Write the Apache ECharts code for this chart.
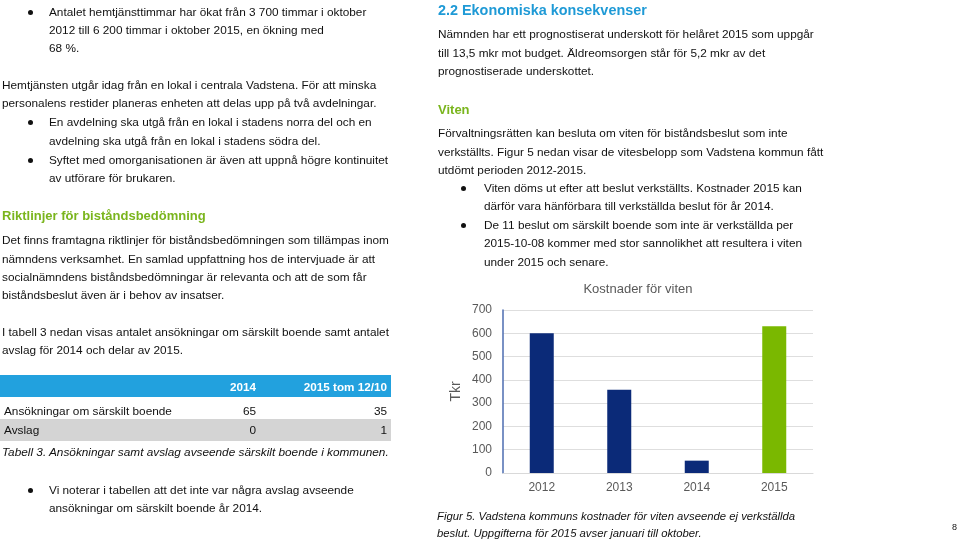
<!DOCTYPE html>
<html><head><meta charset="utf-8">
<script src="https://cdn.jsdelivr.net/npm/echarts@6/dist/echarts.min.js"></script>
<style>
html,body{margin:0;padding:0;background:#fff;}
#page{position:relative;width:960px;height:556px;overflow:hidden;font-family:"Liberation Sans",Arial,sans-serif;color:#111;}
#chart{position:absolute;left:0;top:0;width:960px;height:556px;}
.t{position:absolute;white-space:nowrap;font-size:11.8px;line-height:18px;height:18px;}
.b{position:absolute;width:5px;height:5px;border-radius:50%;background:#111;}
.g{color:#7ab51d;font-weight:bold;font-size:13px;}
.h{color:#1f9ad6;font-weight:bold;font-size:14.4px;}
.i{font-style:italic;font-size:11.8px;}
.fi{font-style:italic;font-size:11.3px;}
.w{color:#fff;font-weight:bold;font-size:11.7px;}
.r{text-align:right;}
</style></head>
<body><div id="page"><div id="chart"></div></div>
<script>
// Chart data
const categories = ['2012', '2013', '2014', '2015'];
const costs = [600, 357, 53, 630];
const yTicks = [0, 100, 200, 300, 400, 500, 600, 700];
const chartTitle = 'Kostnader för viten';
const yName = 'Tkr';

// Page text: [x, yCenter, text, class]
const lines = [
  [49, 12, 'Antalet hemtjänsttimmar har ökat från 3 700 timmar i oktober', ''],
  [49, 30, '2012 till 6 200 timmar i oktober 2015, en ökning med', ''],
  [49, 48, '68 %.', ''],
  [2, 85, 'Hemtjänsten utgår idag från en lokal i centrala Vadstena. För att minska', ''],
  [2, 103, 'personalens restider planeras enheten att delas upp på två avdelningar.', ''],
  [49, 122, 'En avdelning ska utgå från en lokal i stadens norra del och en', ''],
  [49, 141, 'avdelning ska utgå från en lokal i stadens södra del.', ''],
  [49, 160, 'Syftet med omorganisationen är även att uppnå högre kontinuitet', ''],
  [49, 178, 'av utförare för brukaren.', ''],
  [2, 216, 'Riktlinjer för biståndsbedömning', 'g'],
  [2, 240, 'Det finns framtagna riktlinjer för biståndsbedömningen som tillämpas inom', ''],
  [2, 259, 'nämndens verksamhet. En samlad uppfattning hos de intervjuade är att', ''],
  [2, 277, 'socialnämndens biståndsbedömningar är relevanta och att de som får', ''],
  [2, 295, 'biståndsbeslut även är i behov av insatser.', ''],
  [2, 332, 'I tabell 3 nedan visas antalet ansökningar om särskilt boende samt antalet', ''],
  [2, 350, 'avslag för 2014 och delar av 2015.', ''],
  [4, 411, 'Ansökningar om särskilt boende', ''],
  [4, 430, 'Avslag', ''],
  [2, 452, 'Tabell 3. Ansökningar samt avslag avseende särskilt boende i kommunen.', 'i'],
  [49, 490, 'Vi noterar i tabellen att det inte var några avslag avseende', ''],
  [49, 508, 'ansökningar om särskilt boende år 2014.', ''],
  [438, 10, '2.2 Ekonomiska konsekvenser', 'h'],
  [438, 34, 'Nämnden har ett prognostiserat underskott för helåret 2015 som uppgår', ''],
  [438, 53, 'till 13,5 mkr mot budget. Äldreomsorgen står för 5,2 mkr av det', ''],
  [438, 71, 'prognostiserade underskottet.', ''],
  [438, 110, 'Viten', 'g'],
  [438, 133, 'Förvaltningsrätten kan besluta om viten för biståndsbeslut som inte', ''],
  [438, 152, 'verkställts. Figur 5 nedan visar de vitesbelopp som Vadstena kommun fått', ''],
  [438, 170, 'utdömt perioden 2012-2015.', ''],
  [484, 188, 'Viten döms ut efter att beslut verkställts. Kostnader 2015 kan', ''],
  [484, 206, 'därför vara hänförbara till verkställda beslut för år 2014.', ''],
  [484, 225, 'De 11 beslut om särskilt boende som inte är verkställda per', ''],
  [484, 243, '2015-10-08 kommer med stor sannolikhet att resultera i viten', ''],
  [484, 262, 'under 2015 och senare.', ''],
  [437, 516, 'Figur 5. Vadstena kommuns kostnader för viten avseende ej verkställda', 'fi'],
  [437, 533, 'beslut. Uppgifterna för 2015 avser januari till oktober.', 'fi']
];
const bullets = [[30, 12], [30, 122], [30, 160], [30, 490], [463, 188], [463, 225]];
// right-aligned table cells: [rightX, yCenter, text, class]
const cells = [
  [256, 387, '2014', 'w'], [387, 387, '2015 tom 12/10', 'w'],
  [256, 411, '65', ''], [387, 411, '35', ''],
  [256, 430, '0', ''], [387, 430, '1', '']
];

const page = document.getElementById('page');
function box(l, t, w, h, c) {
  const d = document.createElement('div');
  d.style.cssText = `position:absolute;left:${l}px;top:${t}px;width:${w}px;height:${h}px;background:${c};`;
  page.insertBefore(d, page.firstChild);
}
box(0, 375, 391, 22, '#22a1de');
box(0, 419, 391, 22, '#d4d4d4');
lines.forEach(([x, y, s, c]) => {
  const d = document.createElement('div');
  d.className = 't ' + c; d.textContent = s;
  d.style.left = x + 'px'; d.style.top = (y - 9) + 'px';
  page.appendChild(d);
});
cells.forEach(([x, y, s, c]) => {
  const d = document.createElement('div');
  d.className = 't r ' + c; d.textContent = s;
  d.style.left = (x - 150) + 'px'; d.style.width = '150px'; d.style.top = (y - 9) + 'px';
  page.appendChild(d);
});
bullets.forEach(([x, y]) => {
  const d = document.createElement('div');
  d.className = 'b'; d.style.left = (x - 2.5) + 'px'; d.style.top = (y - 2.5) + 'px';
  page.appendChild(d);
});
const pn = document.createElement('div');
pn.className = 't'; pn.textContent = '8';
pn.style.cssText += 'left:952px;top:518px;font-size:9px;';
page.appendChild(pn);

const chart = echarts.init(document.getElementById('chart'), null, {renderer: 'canvas'});
chart.setOption({
  animation: false,
  title: {
    text: chartTitle, left: 633, top: 278, textAlign: 'center',
    textStyle: {fontFamily: 'Liberation Sans', fontSize: 13, fontWeight: 'normal', color: '#595959'}
  },
  grid: {left: 503, right: 147, top: 310, bottom: 83, containLabel: false},
  xAxis: {
    type: 'category', data: categories,
    axisLine: {show: true, lineStyle: {color: '#d9d9d9', width: 1}},
    axisTick: {show: false},
    axisLabel: {fontFamily: 'Liberation Sans', fontSize: 12, color: '#595959', margin: 9}
  },
  yAxis: {
    type: 'value', min: yTicks[0], max: yTicks[yTicks.length - 1], interval: 100,
    name: yName, nameLocation: 'middle', nameGap: 40, nameRotate: 90,
    nameTextStyle: {fontFamily: 'Liberation Sans', fontSize: 14, color: '#595959'},
    axisLine: {show: true, lineStyle: {color: '#4d6cb0', width: 1.5}},
    axisTick: {show: false},
    axisLabel: {fontFamily: 'Liberation Sans', fontSize: 12, color: '#595959', margin: 11},
    splitLine: {lineStyle: {color: '#dedede', width: 1}}
  },
  series: [{
    type: 'bar', barWidth: 24,
    data: costs.map((v, i) => ({value: v, itemStyle: {color: i === costs.length - 1 ? '#7ab800' : '#0b2a78'}}))
  }]
});
</script></body></html>
